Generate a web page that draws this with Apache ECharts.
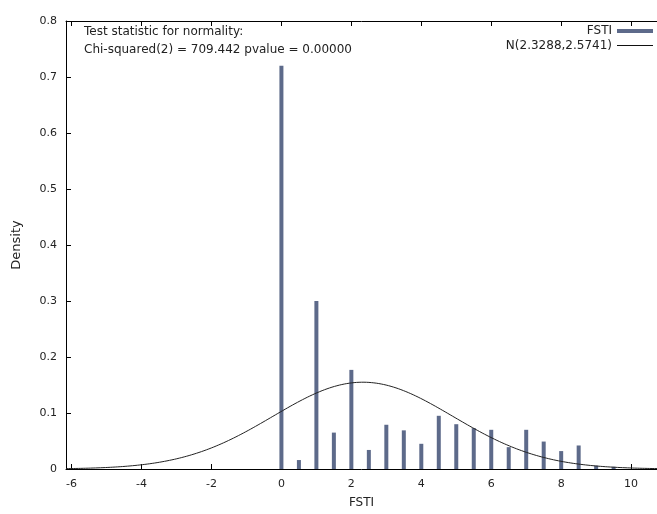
<!DOCTYPE html>
<html>
<head>
<meta charset="utf-8">
<script src="https://cdn.jsdelivr.net/npm/echarts@6/dist/echarts.min.js"></script>
<style>
  html, body { margin: 0; padding: 0; background: #fff; }
  #chart { width: 657px; height: 514px; }
</style>
</head>
<body>
<div id="chart"></div>
<script>
// Histogram bin centres for FSTI and their densities
var binCenters = [0, 0.5, 1, 1.5, 2, 2.5, 3, 3.5, 4, 4.5, 5, 5.5, 6, 6.5, 7, 7.5, 8, 8.5, 9, 9.5];
var densities = [0.72, 0.016, 0.300, 0.065, 0.177, 0.034, 0.079, 0.069, 0.045, 0.095,
                 0.080, 0.073, 0.070, 0.039, 0.070, 0.049, 0.032, 0.042, 0.006, 0.004];

// Fitted normal distribution, as stated in the legend
var normalMean = [2.3288];
var normalSd = [2.5741];

var xTicks = [-6, -4, -2, 0, 2, 4, 6, 8, 10];
var yTicks = [0, 0.1, 0.2, 0.3, 0.4, 0.5, 0.6, 0.7, 0.8];

var textLines = ['Test statistic for normality:', 'Chi-squared(2) = 709.442 pvalue = 0.00000'];
var seriesNames = ['FSTI', 'N(2.3288,2.5741)'];

var xMin = -6.16, xMax = 10.74;

var barData = binCenters.map(function (c, i) { return [c, densities[i]]; });

var curveData = [];
(function () {
  var m = normalMean[0], s = normalSd[0];
  var steps = 240;
  for (var i = 0; i <= steps; i++) {
    var x = xMin + (xMax - xMin) * i / steps;
    var z = (x - m) / s;
    curveData.push([x, Math.exp(-0.5 * z * z) / (s * Math.sqrt(2 * Math.PI))]);
  }
})();

var font = 'DejaVu Sans, Verdana, sans-serif';
var fs = 12;
var tickFs = 11;
var chart = echarts.init(document.getElementById('chart'), null, { renderer: 'canvas' });

chart.setOption({
  animation: false,
  backgroundColor: '#fff',
  textStyle: { fontFamily: font },
  grid: { left: 66, top: 21, height: 454, width: 598, containLabel: false },
  legend: [
    {
      data: [{ name: seriesNames[0], icon: 'rect' }],
      right: 4, top: 25, align: 'right', orient: 'vertical', padding: 0,
      itemWidth: 36, itemHeight: 4, itemGap: 4,
      textStyle: { fontFamily: font, fontSize: fs, color: '#222' }
    },
    {
      data: [{ name: seriesNames[1], icon: 'rect' }],
      right: 4, top: 39.5, align: 'right', orient: 'vertical', padding: 0,
      itemWidth: 36, itemHeight: 1, itemGap: 4,
      textStyle: { fontFamily: font, fontSize: fs, color: '#222' }
    }
  ],
  graphic: [
    { type: 'text', left: 84, top: 26, style: { text: textLines[0], font: fs + 'px ' + font, fill: '#222' } },
    { type: 'text', left: 84, top: 44, style: { text: textLines[1], font: fs + 'px ' + font, fill: '#222' } }
  ],
  xAxis: [
    {
      type: 'value', min: xMin, max: xMax, position: 'bottom',
      name: 'FSTI', nameLocation: 'middle', nameGap: 28,
      nameTextStyle: { fontFamily: font, fontSize: fs, color: '#222' },
      axisLine: { show: true, onZero: false, lineStyle: { color: '#000', width: 1 } },
      axisTick: { show: true, inside: true, length: 5, customValues: xTicks, lineStyle: { color: '#000' } },
      axisLabel: { show: true, customValues: xTicks, margin: 10, fontFamily: font, fontSize: tickFs, color: '#222' },
      splitLine: { show: false }
    },
    {
      type: 'value', min: xMin, max: xMax, position: 'top',
      axisLine: { show: true, onZero: false, lineStyle: { color: '#000', width: 1 } },
      axisTick: { show: true, inside: true, length: 5, customValues: xTicks, lineStyle: { color: '#000' } },
      axisLabel: { show: false },
      splitLine: { show: false }
    }
  ],
  yAxis: {
    type: 'value', min: 0, max: 0.8, interval: 0.1,
    name: 'Density', nameLocation: 'middle', nameGap: 43, nameRotate: 90,
    nameTextStyle: { fontFamily: font, fontSize: 13, color: '#222' },
    axisLine: { show: true, onZero: false, lineStyle: { color: '#000', width: 1 } },
    axisTick: { show: true, inside: true, length: 5, lineStyle: { color: '#000' } },
    axisLabel: {
      margin: 9, fontFamily: font, fontSize: tickFs, color: '#222',
      formatter: function (v) { return String(Math.round(v * 10) / 10); }
    },
    splitLine: { show: false }
  },
  series: [
    {
      name: seriesNames[0], type: 'bar', xAxisIndex: 0,
      data: barData, barWidth: 4,
      itemStyle: { color: '#5d6a8a' },
      silent: true
    },
    {
      name: seriesNames[1], type: 'line', xAxisIndex: 0,
      data: curveData, showSymbol: false, smooth: false,
      lineStyle: { color: '#222', width: 1 },
      itemStyle: { color: '#111' },
      silent: true, z: 3
    }
  ]
});
</script>
</body>
</html>
